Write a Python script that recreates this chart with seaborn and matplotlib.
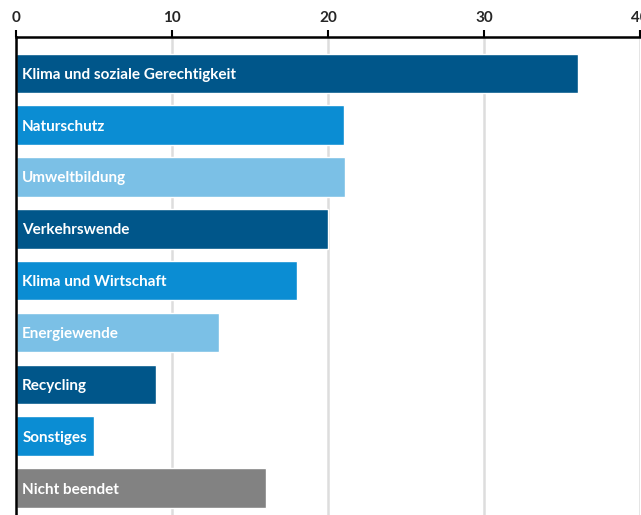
import matplotlib
matplotlib.use("Agg")
import matplotlib.pyplot as plt
import seaborn as sns
import pandas as pd

categories = ["Klima und soziale Gerechtigkeit", "Naturschutz", "Umweltbildung",
              "Verkehrswende", "Klima und Wirtschaft", "Energiewende",
              "Recycling", "Sonstiges", "Nicht beendet"]
values = [36, 21, 21.1, 20, 18, 13, 9, 5, 16]
colors = ["#00568a", "#0b8dd3", "#7bc0e6", "#00568a", "#0b8dd3", "#7bc0e6",
          "#00568a", "#0b8dd3", "#828282"]
xticks = [0, 10, 20, 30, 40]

sns.set_style("white")
plt.rcParams['font.family'] = ['Lato', 'DejaVu Sans']

df = pd.DataFrame({"cat": categories, "val": values})

fig = plt.figure(figsize=(6.41, 5.15), dpi=100)
ax = fig.add_axes([16/641, 0, 624/641, 1 - 37/515])

sns.barplot(data=df, y="cat", x="val", hue="cat", palette=colors, legend=False,
            width=0.76, ax=ax, orient="h", saturation=1)

ax.set_xlim(0, 40)
ax.set_ylim(8.52, -0.7)
ax.set_xticks(xticks)
ax.set_xticklabels([str(t) for t in xticks])
ax.xaxis.tick_top()
ax.tick_params(axis="x", direction="out", length=5, width=1.5, color="black",
               labelsize=11, pad=4)
for lbl in ax.get_xticklabels():
    lbl.set_fontweight("bold")
ax.set_yticks([])
ax.set_xlabel("")
ax.set_ylabel("")
ax.grid(axis="x", color="#dddddd", linewidth=1.8)
ax.set_axisbelow(True)
for s in ["right", "bottom"]:
    ax.spines[s].set_visible(False)
ax.spines["top"].set_color("black")
ax.spines["top"].set_linewidth(1.8)
ax.spines["left"].set_color("black")
ax.spines["left"].set_linewidth(1.8)

for i, c in enumerate(categories):
    ax.text(0.4, i, c, color="white", fontsize=11, fontweight="bold",
            va="center_baseline", ha="left")

fig.savefig("out.png", dpi=100)
